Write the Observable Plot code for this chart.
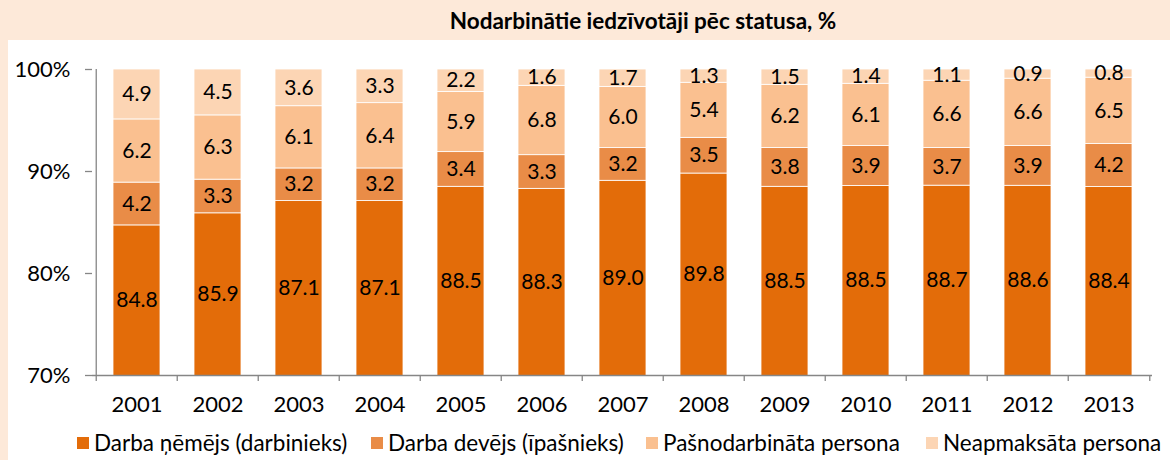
<!DOCTYPE html>
<html>
<head>
<meta charset="utf-8">
<script src="https://cdn.jsdelivr.net/npm/d3@7"></script>
<script src="https://cdn.jsdelivr.net/npm/@observablehq/plot@0.6"></script>
<style>
  html, body { margin: 0; padding: 0; }
  body { width: 1170px; height: 460px; background: #FDE9D9; font-family: Lato, "Open Sans", sans-serif; overflow: hidden; position: relative; }
  #title { position: absolute; left: 0; top: 0; width: 1170px; height: 40px; line-height: 42px; padding-left: 116px; box-sizing: border-box; text-align: center; font-weight: bold; font-size: 22.5px; color: #000; }
  #panel { position: absolute; left: 8px; top: 40px; width: 1162px; height: 420px; background: #fff; }
  #legend { position: absolute; left: 0; top: 389px; width: 1162px; height: 26px; font-size: 22.5px; color: #000; }
  .item { position: absolute; top: 0; display: flex; align-items: center; white-space: nowrap; }
  .sw { width: 12px; height: 12px; margin-right: 5px; }
</style>
</head>
<body>
<div id="title">Nodarbinātie iedzīvotāji pēc statusa, %</div>
<div id="panel"><div id="chart"></div><div id="legend"></div></div>
<script>
const years = ["2001","2002","2003","2004","2005","2006","2007","2008","2009","2010","2011","2012","2013"];
const seriesNames = ["Darba ņēmējs (darbinieks)", "Darba devējs (īpašnieks)", "Pašnodarbināta persona", "Neapmaksāta persona"];
const employees    = [84.8, 85.9, 87.1, 87.1, 88.5, 88.3, 89.0, 89.8, 88.5, 88.5, 88.7, 88.6, 88.4];
const employers    = [4.2, 3.3, 3.2, 3.2, 3.4, 3.3, 3.2, 3.5, 3.8, 3.9, 3.7, 3.9, 4.2];
const selfEmployed = [6.2, 6.3, 6.1, 6.4, 5.9, 6.8, 6.0, 5.4, 6.2, 6.1, 6.6, 6.6, 6.5];
const unpaidVals   = [4.9, 4.5, 3.6, 3.3, 2.2, 1.6, 1.7, 1.3, 1.5, 1.4, 1.1, 0.9, 0.8];
const yTicks = [0.7, 0.8, 0.9, 1.0];
const colors = ["#E36C09", "#E98C47", "#FAC090", "#FCD5B4"];

const seriesVals = [employees, employers, selfEmployed, unpaidVals];
const rows = [];
years.forEach((yr, i) => {
  const total = seriesVals.reduce((s, a) => s + a[i], 0);
  let cum = 0;
  seriesVals.forEach((arr, k) => {
    const v = arr[i];
    const lo = cum / total;
    cum += v;
    const hi = cum / total;
    rows.push({year: yr, series: seriesNames[k], value: v, lo, hi, mid: (Math.max(lo, 0.7) + hi) / 2});
  });
});

const W = 1162, ML = 84, MR = 18;
const step = (W - ML - MR) / years.length;
const FS = 22;

const chart = Plot.plot({
  width: W,
  height: 385,
  marginLeft: ML,
  marginRight: MR,
  marginTop: 29,
  marginBottom: 50,
  style: {fontFamily: "Lato, 'Open Sans', sans-serif", fontSize: FS + "px", color: "#000", background: "#fff"},
  x: {domain: years, paddingInner: 0.42, paddingOuter: 0.21, label: null},
  y: {domain: [0.7, 1], label: null},
  color: {domain: seriesNames, range: colors},
  marks: [
    Plot.rectY(rows, {x: "year", y1: "lo", y2: "hi", fill: "series", stroke: "#fff", strokeWidth: 0.8, clip: true}),
    Plot.text(rows, {x: "year", y: "mid", text: d => d.value.toFixed(1), fill: "#000", fontSize: 21}),
    Plot.ruleX([years[0]], {x: d => d, dx: -step / 2, y1: 0.7, y2: 1, stroke: "#868686", strokeWidth: 1.3}),
    Plot.ruleY([0.7], {stroke: "#868686", strokeWidth: 1.3}),
    Plot.axisY({ticks: yTicks, tickFormat: d => Math.round(d * 100) + "%", tickSize: 7, tickPadding: 15, stroke: "#868686", strokeWidth: 1.3, fill: "#000", fontSize: FS}),
    Plot.axisX({tickSize: 6, text: null, dx: -step / 2, stroke: "#868686", strokeWidth: 1.3}),
    Plot.axisX({ticks: [years[years.length - 1]], tickSize: 6, text: null, dx: step / 2, stroke: "#868686", strokeWidth: 1.3}),
    Plot.axisX({tickSize: 0, tickPadding: 21, fill: "#000", fontSize: FS})
  ]
});
document.getElementById("chart").appendChild(chart);

const legend = document.getElementById("legend");
const legendLeft = [69, 363, 638, 918];
seriesNames.forEach((name, k) => {
  const it = document.createElement("div");
  it.className = "item";
  it.style.left = legendLeft[k] + "px";
  it.innerHTML = `<span class="sw" style="background:${colors[k]}"></span><span>${name}</span>`;
  legend.appendChild(it);
});
</script>
</body>
</html>
